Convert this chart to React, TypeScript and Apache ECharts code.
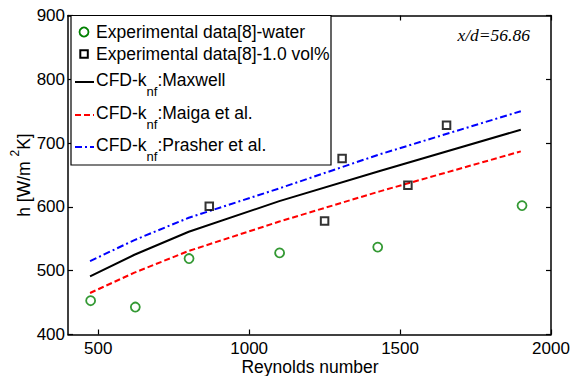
import React, { useEffect, useRef } from "react";
import * as echarts from "echarts";

// ---- Data ----
const reWater = [475, 623, 801, 1101, 1426, 1904];
const hWater = [453, 443, 519, 528, 537, 602];

const reNano = [868, 1250, 1308, 1526, 1654];
const hNano = [601, 578, 676, 634, 728];

const reCfd = [473, 620, 800, 1100, 1430, 1900];
const hMaxwell = [491, 525, 561, 609, 656, 721];
const hMaiga = [465, 497, 531, 577, 624, 687];
const hPrasher = [515, 548, 583, 629, 682, 750];

const xTicks = [500, 1000, 1500, 2000];

const legendNames = [
  "Experimental data[8]-water",
  "Experimental data[8]-1.0 vol%",
  ":Maxwell",
  ":Maiga et al.",
  ":Prasher et al.",
];

const FONT = "'Liberation Sans', Arial, sans-serif";

const zip = (a: number[], b: number[]) => a.map((v, i) => [v, b[i]]);

export default function App() {
  const ref = useRef<HTMLDivElement>(null);

  useEffect(() => {
    if (!ref.current) return;
    const chart = echarts.init(ref.current, undefined, { renderer: "svg" });

    const axisLineStyle = { color: "#000", width: 1.5 };
    const subRich = {
      a: { fontSize: 17.5, lineHeight: 17, verticalAlign: "top", fontFamily: FONT, color: "#000" },
      s: { fontSize: 13, lineHeight: 13, padding: [14, 0, 0, 0], verticalAlign: "top", fontFamily: FONT, color: "#000" },
    };

    const legendTextX = 96;
    const cfdLegend = [
      { name: legendNames[2], center: 79, lineY: 82, color: "#000", dash: "solid" },
      { name: legendNames[3], center: 112, lineY: 115, color: "#ff0000", dash: [6, 3] },
      { name: legendNames[4], center: 144, lineY: 147, color: "#0000ff", dash: [7, 3, 2, 3] },
    ];

    const graphic: any[] = [
      {
        type: "rect",
        shape: { x: 71, y: 15.5, width: 260, height: 149.5 },
        style: { fill: "#fff", stroke: "#000", lineWidth: 1.2 },
        z: 100,
      },
      {
        type: "circle",
        shape: { cx: 84, cy: 32, r: 4.5 },
        style: { fill: "none", stroke: "#008000", lineWidth: 1.8 },
        z: 101,
      },
      {
        type: "text",
        style: { x: legendTextX, y: 32, text: legendNames[0], fontSize: 17.5, fontFamily: FONT, fill: "#000", verticalAlign: "middle", align: "left" },
        z: 101,
      },
      {
        type: "rect",
        shape: { x: 80.3, y: 50.3, width: 7.5, height: 7.5 },
        style: { fill: "none", stroke: "#000", lineWidth: 2 },
        z: 101,
      },
      {
        type: "text",
        style: { x: legendTextX, y: 54, text: legendNames[1], fontSize: 17.5, fontFamily: FONT, fill: "#000", verticalAlign: "middle", align: "left" },
        z: 101,
      },
      {
        type: "text",
        style: {
          x: 530,
          y: 35,
          text: "x/d=56.86",
          fontSize: 17.5,
          fontStyle: "italic",
          fontFamily: "'Liberation Serif', 'Times New Roman', serif",
          fill: "#000",
          align: "right",
          verticalAlign: "middle",
        },
        z: 101,
      },
      {
        type: "text",
        style: { x: 310, y: 367, text: "Reynolds number", fontSize: 17.5, fontFamily: FONT, fill: "#000", align: "center", verticalAlign: "middle" },
        z: 101,
      },
      {
        type: "text",
        x: 17,
        y: 175,
        rotation: Math.PI / 2,
        style: {
          x: 0,
          y: 0,
          text: "{a|h [W/m }{s|2}{a|K]}",
          align: "center",
          verticalAlign: "middle",
          rich: {
            a: { fontSize: 17.5, lineHeight: 17, padding: [6, 0, 0, 0], verticalAlign: "top", fontFamily: FONT, color: "#000" },
            s: { fontSize: 12, lineHeight: 12, verticalAlign: "top", fontFamily: FONT, color: "#000" },
          },
        },
        z: 101,
      },
    ];

    cfdLegend.forEach((c) => {
      graphic.push({
        type: "line",
        shape: { x1: 75, y1: c.lineY, x2: 94, y2: c.lineY },
        style: { stroke: c.color, lineWidth: 2, lineDash: c.dash },
        z: 101,
      });
      graphic.push({
        type: "text",
        style: {
          x: legendTextX,
          y: c.center - 8.5,
          text: `{a|CFD-k}{s|nf}{a|${c.name}}`,
          align: "left",
          verticalAlign: "top",
          rich: subRich,
        },
        z: 101,
      });
    });

    chart.setOption({
      animation: false,
      backgroundColor: "#fff",
      grid: { left: 68, right: 27, top: 15.5, bottom: 41.5, containLabel: false },
      xAxis: [
        {
          type: "value",
          min: 400,
          max: 2000,
          position: "bottom",
          axisLine: { show: true, onZero: false, lineStyle: axisLineStyle },
          axisTick: { show: true, inside: true, length: 5, lineStyle: { color: "#000", width: 1.2 }, customValues: xTicks },
          axisLabel: { color: "#000", fontSize: 17, fontFamily: FONT, margin: 5, customValues: xTicks, formatter: (v: number) => String(v) },
          splitLine: { show: false },
        },
        {
          type: "value",
          min: 400,
          max: 2000,
          position: "top",
          axisLine: { show: true, onZero: false, lineStyle: axisLineStyle },
          axisTick: { show: true, inside: true, length: 5, lineStyle: { color: "#000", width: 1.2 }, customValues: xTicks },
          axisLabel: { show: false, customValues: xTicks },
          splitLine: { show: false },
        },
      ],
      yAxis: [
        {
          type: "value",
          min: 400,
          max: 900,
          interval: 100,
          position: "left",
          axisLine: { show: true, onZero: false, lineStyle: axisLineStyle },
          axisTick: { show: true, inside: true, length: 5, lineStyle: { color: "#000", width: 1.2 } },
          axisLabel: { color: "#000", fontSize: 17, fontFamily: FONT, margin: 3, formatter: (v: number) => String(v) },
          splitLine: { show: false },
        },
        {
          type: "value",
          min: 400,
          max: 900,
          interval: 100,
          position: "right",
          axisLine: { show: true, onZero: false, lineStyle: axisLineStyle },
          axisTick: { show: true, inside: true, length: 5, lineStyle: { color: "#000", width: 1.2 } },
          axisLabel: { show: false },
          splitLine: { show: false },
        },
      ],
      series: [
        {
          name: "Maxwell",
          type: "line",
          data: zip(reCfd, hMaxwell),
          showSymbol: false,
          lineStyle: { color: "#000", width: 2, type: "solid" },
          z: 3,
        },
        {
          name: "Maiga",
          type: "line",
          data: zip(reCfd, hMaiga),
          showSymbol: false,
          lineStyle: { color: "#ff0000", width: 2, type: [6, 3] },
          z: 3,
        },
        {
          name: "Prasher",
          type: "line",
          data: zip(reCfd, hPrasher),
          showSymbol: false,
          lineStyle: { color: "#0000ff", width: 2, type: [7, 3, 2, 3] },
          z: 3,
        },
        {
          name: "water",
          type: "scatter",
          data: zip(reWater, hWater),
          symbol: "circle",
          symbolSize: 9,
          itemStyle: { color: "transparent", borderColor: "#008000", borderWidth: 1.8 },
          z: 4,
        },
        {
          name: "nano",
          type: "scatter",
          data: zip(reNano, hNano),
          symbol: "rect",
          symbolSize: 7.5,
          itemStyle: { color: "transparent", borderColor: "#000", borderWidth: 2 },
          z: 4,
        },
      ],
      graphic,
    });

    return () => chart.dispose();
  }, []);

  return <div ref={ref} style={{ width: 578, height: 376, position: "absolute", left: 0, top: 0 }} />;
}
